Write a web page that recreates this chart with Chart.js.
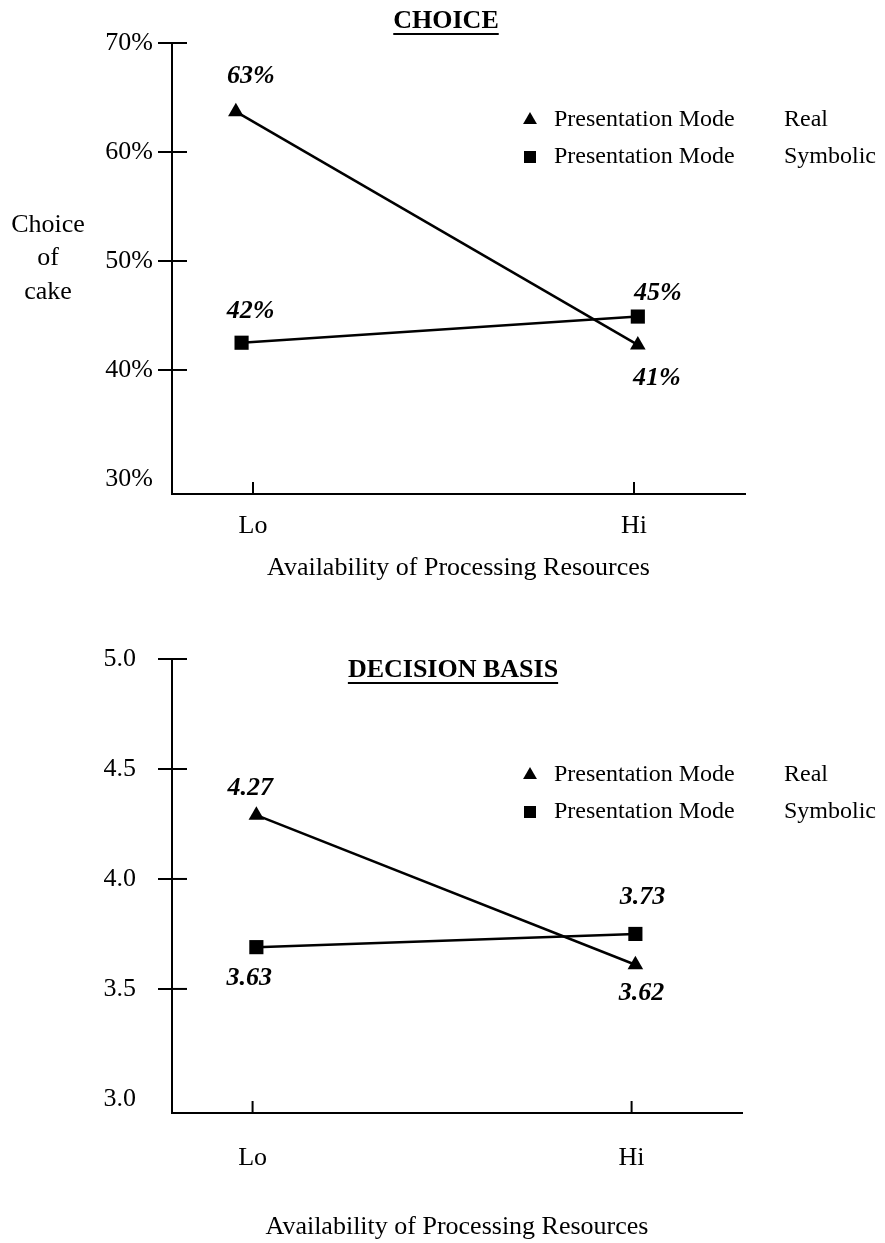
<!DOCTYPE html>
<html>
<head>
<meta charset="utf-8">
<script src="https://cdn.jsdelivr.net/npm/chart.js@4.4.1/dist/chart.umd.min.js"></script>
<style>
body { margin: 0; background: #fff; }
.panel { position: absolute; left: 0; width: 885px; }
</style>
</head>
<body>
<div class="panel" style="top:0;height:620px"><canvas id="choice-chart" width="885" height="620"></canvas></div>
<div class="panel" style="top:620px;height:623px"><canvas id="basis-chart" width="885" height="623"></canvas></div>
<script>
const categories = ['Lo', 'Hi'];
const modeNames = ['Real', 'Symbolic'];

// CHOICE panel (% choosing cake), positions
const choiceRealX = [-0.045, 1.01];
const choiceReal = [63.7, 42.3];
const choiceSymX = [-0.03, 1.01];
const choiceSym = [42.5, 44.9];
const choiceRealText = ['63%', '41%'];
const choiceSymText = ['42%', '45%'];
const choiceTicks = [30, 40, 50, 60, 70];

// DECISION BASIS panel
const basisRealX = [0.01, 1.01];
const basisReal = [4.29, 3.61];
const basisSymX = [0.01, 1.01];
const basisSym = [3.69, 3.75];
const basisRealText = ['4.27', '3.62'];
const basisSymText = ['3.63', '3.73'];
const basisTicks = [3.0, 3.5, 4.0, 4.5, 5.0];

const serif = '"Liberation Serif", "Times New Roman", serif';

function pts(xs, ys) {
	return xs.map((x, i) => ({x: x, y: ys[i]}));
}

// titles, horizontal y title, legend, inner tick halves and value labels
const decor = {
	id: 'decor',
	afterDraw(chart, args, o) {
		const ctx = chart.ctx;
		const area = chart.chartArea;
		const xs = chart.scales.x, ys = chart.scales.y;
		ctx.save();
		ctx.strokeStyle = '#000';
		ctx.fillStyle = '#000';
		ctx.lineWidth = 2;
		ys.ticks.forEach((t, i) => {
			if (i == 0) return;
			const py = ys.getPixelForValue(t.value);
			ctx.beginPath();
			ctx.moveTo(area.left, py);
			ctx.lineTo(area.left + 15, py);
			ctx.stroke();
		});
		xs.ticks.forEach(t => {
			const px = xs.getPixelForValue(t.value);
			ctx.beginPath();
			ctx.moveTo(px, area.bottom);
			ctx.lineTo(px, area.bottom - 12);
			ctx.stroke();
		});

		ctx.textAlign = 'center';
		ctx.textBaseline = 'middle';
		ctx.font = 'bold 26px ' + serif;
		ctx.fillText(o.title, o.titleX, o.titleY);
		const w = ctx.measureText(o.title).width;
		ctx.fillRect(o.titleX - w / 2, o.titleY + 12, w, 2);

		ctx.font = '26px ' + serif;
		o.yTitle.forEach((s, i) => ctx.fillText(s, 48, o.yTitleY + i * 33.5));

		ctx.font = '24px ' + serif;
		ctx.textAlign = 'left';
		chart.data.datasets.forEach((ds, i) => {
			const ry = o.legendY + i * 37;
			Chart.helpers.drawPoint(ctx, {pointStyle: ds.pointStyle, radius: i == 0 ? 8 : 8.5, rotation: 0, borderWidth: 0}, 530, ry);
			ctx.fillText('Presentation Mode', 554, ry);
			ctx.fillText(modeNames[i], 784, ry);
		});

		ctx.textAlign = 'center';
		ctx.font = 'bold italic 26px ' + serif;
		chart.data.datasets.forEach((ds, di) => {
			const meta = chart.getDatasetMeta(di);
			meta.data.forEach((p, j) => {
				const off = o.labelOffsets[di][j];
				ctx.fillText(ds.valueText[j], p.x + off[0], p.y + off[1]);
			});
		});
		ctx.restore();
	}
};

function makeChart(id, c) {
	const el = document.getElementById(id);
	if (!el)
		return null;
	return new Chart(el.getContext('2d'), {
		type: 'line',
		data: {
			datasets: [{
				label: 'Presentation Mode Real',
				data: pts(c.realX, c.real),
				valueText: c.realText,
				pointStyle: 'triangle',
				pointRadius: 9,
				borderColor: '#000',
				backgroundColor: '#000',
				borderWidth: 2.5,
				pointBorderWidth: 0
			}, {
				label: 'Presentation Mode Symbolic',
				data: pts(c.symX, c.sym),
				valueText: c.symText,
				pointStyle: 'rect',
				pointRadius: 10,
				borderColor: '#000',
				backgroundColor: '#000',
				borderWidth: 2.5,
				pointBorderWidth: 0
			}]
		},
		options: {
			responsive: false,
			animation: false,
			layout: {padding: {top: c.top, right: c.right, left: 0, bottom: 0}},
			plugins: {
				legend: {display: false},
				tooltip: {enabled: false},
				decor: c.decor
			},
			scales: {
				x: {
					type: 'linear',
					min: -0.2126,
					max: 1.2913,
					afterBuildTicks: s => { s.ticks = categories.map((n, i) => ({value: i})); },
					afterFit: s => { s.height = c.xHeight; },
					grid: {display: false, drawTicks: false},
					border: {color: '#000', width: 2},
					ticks: {
						color: '#000',
						font: {family: serif, size: 26},
						padding: c.xPad,
						maxRotation: 0,
						autoSkip: false,
						callback: (v, i) => categories[i]
					},
					title: {
						display: true,
						text: 'Availability of Processing Resources',
						color: '#000',
						font: {family: serif, size: 26},
						padding: {top: 0, bottom: c.xTitlePad}
					}
				},
				y: {
					min: c.yMin,
					max: c.yMax,
					afterBuildTicks: s => { s.ticks = c.ticks.map(v => ({value: v})); },
					afterFit: s => { s.width = 172; },
					grid: {
						drawOnChartArea: false,
						tickLength: 14,
						lineWidth: 2,
						color: ctx => ctx.index === 0 ? 'rgba(0,0,0,0)' : '#000'
					},
					border: {color: '#000', width: 2},
					ticks: {
						color: '#000',
						font: {family: serif, size: 26},
						padding: c.yPad,
						callback: c.fmt
					}
				}
			}
		},
		plugins: [decor]
	});
}

makeChart('choice-chart', {
	realX: choiceRealX, real: choiceReal, realText: choiceRealText,
	symX: choiceSymX, sym: choiceSym, symText: choiceSymText,
	ticks: choiceTicks, yMin: 28.62, yMax: 70,
	fmt: v => v + '%',
	top: 43, right: 140, xHeight: 126, xPad: 17, xTitlePad: 36, yPad: 5,
	decor: {
		title: 'CHOICE', titleX: 446, titleY: 21,
		yTitle: ['Choice', 'of', 'cake'], yTitleY: 225,
		legendY: 120,
		labelOffsets: [[[15, -35], [19, 33]], [[9, -31], [20, -23]]]
	}
});

makeChart('basis-chart', {
	realX: basisRealX, real: basisReal, realText: basisRealText,
	symX: basisSymX, sym: basisSym, symText: basisSymText,
	ticks: basisTicks, yMin: 2.936, yMax: 5.0,
	fmt: v => v.toFixed(1),
	top: 39, right: 143, xHeight: 130, xPad: 30, xTitlePad: 0, yPad: 22,
	decor: {
		title: 'DECISION BASIS', titleX: 453, titleY: 50,
		yTitle: [], yTitleY: 0,
		legendY: 155,
		labelOffsets: [[[-6, -27], [6, 29]], [[-7, 31], [7, -37]]]
	}
});
</script>
</body>
</html>
